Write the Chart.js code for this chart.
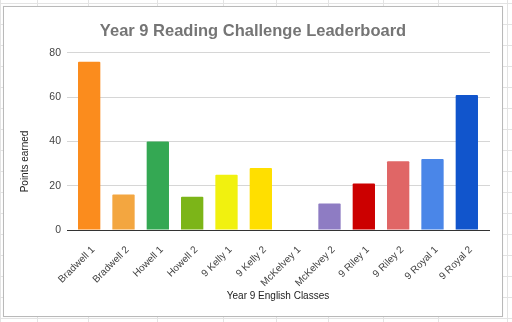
<!doctype html>
<html>
<head>
  <meta charset="utf-8" />
  <title>Year 9 Reading Challenge Leaderboard</title>
  <style>
    html, body { margin: 0; padding: 0; }
    body {
      width: 512px; height: 322px; overflow: hidden; position: relative;
      background-color: #fff;
      background-image:
        linear-gradient(to bottom, #e3e3e3 1px, transparent 1px),
        linear-gradient(to right, #e3e3e3 1px, transparent 1px);
      background-size: 512px 21px, 512px 322px;
      background-position: 0 3px, 0 0;
    }
    /* spreadsheet column separators */
    .col { position: absolute; top: 0; width: 1px; height: 322px; background: #e3e3e3; }
    #box {
      position: absolute; left: 3px; top: 6px; width: 500px; height: 311px;
      box-sizing: border-box; border: 1px solid #b9b9b9; background: #fff;
      box-shadow: 0 0 1px rgba(0,0,0,.08);
    }
    #wrap { position: absolute; left: 4px; top: 7px; width: 498px; height: 309px; }
  </style>
  <script src="https://cdn.jsdelivr.net/npm/chart.js"></script>
</head>
<body>
  <div class="col" style="left:37px"></div>
  <div class="col" style="left:88px"></div>
  <div class="col" style="left:157px"></div>
  <div class="col" style="left:223px"></div>
  <div class="col" style="left:276px"></div>
  <div class="col" style="left:328px"></div>
  <div class="col" style="left:383px"></div>
  <div class="col" style="left:438px"></div>
  <div class="col" style="left:507px"></div>
  <div id="box"></div>
  <div id="wrap"><canvas id="board" width="498" height="309"></canvas></div>
  <script>
    const classes = ['Bradwell 1', 'Bradwell 2', 'Howell 1', 'Howell 2', '9 Kelly 1', '9 Kelly 2',
      'McKelvey 1', 'McKelvey 2', '9 Riley 1', '9 Riley 2', '9 Royal 1', '9 Royal 2'];
    const points = [76, 16, 40, 15, 25, 28, 0, 12, 21, 31, 32, 61];
    const barColours = ['#fb8c1d', '#f3a640', '#34a853', '#7cb518', '#f1f10f', '#ffdf00',
      '#9e9e9e', '#8e7cc3', '#cc0000', '#e06666', '#4a86e8', '#1155cc'];
    const yTicks = [0, 20, 40, 60, 80];

    const TEXT = '#444';
    const GRID = '#d6d6d6';

    // rotated y-axis caption, centred on the whole chart box rather than the plot
    const yCaption = {
      id: 'yCaption',
      afterDraw(chart) {
        const ctx = chart.ctx;
        ctx.save();
        ctx.translate(21, chart.height / 2);
        ctx.rotate(-Math.PI / 2);
        ctx.font = '10px Arial, "Liberation Sans", sans-serif';
        ctx.fillStyle = '#222';
        ctx.textAlign = 'center';
        ctx.textBaseline = 'middle';
        ctx.fillText('Points earned', 0, 0);
        ctx.restore();
      }
    };

    const gridColour = (c) => (c.tick && c.tick.value === 0 ? '#333' : GRID);

    new Chart(document.getElementById('board'), {
      type: 'bar',
      data: {
        labels: classes,
        datasets: [{
          data: points,
          backgroundColor: barColours,
          borderWidth: 0,
          borderRadius: 1,
          categoryPercentage: 1,
          barPercentage: 0.65
        }]
      },
      options: {
        responsive: false,
        animation: false,
        layout: { padding: 0 },
        plugins: {
          legend: { display: false },
          tooltip: { enabled: false },
          title: {
            display: true,
            text: 'Year 9 Reading Challenge Leaderboard',
            color: '#757575',
            font: { family: 'Arial, "Liberation Sans", sans-serif', size: 16.5, weight: 'bold', lineHeight: 1.2 },
            padding: { top: 15, bottom: 11 }
          }
        },
        scales: {
          x: {
            grid: { display: false },
            border: { display: false },
            ticks: {
              color: TEXT,
              font: { family: 'Arial, "Liberation Sans", sans-serif', size: 10 },
              minRotation: 45, maxRotation: 45,
              padding: 6,
              labelOffset: 4,
              autoSkip: false
            },
            title: {
              display: true,
              text: 'Year 9 English Classes',
              color: '#222',
              font: { family: 'Arial, "Liberation Sans", sans-serif', size: 10, lineHeight: 1.2 },
              padding: { top: 0, bottom: 14 }
            },
            afterFit(scale) { scale.height = 86; }
          },
          y: {
            min: 0, max: 80,
            afterBuildTicks(scale) { scale.ticks = yTicks.map(v => ({ value: v })); },
            grid: { color: gridColour, tickColor: gridColour, drawTicks: true, tickLength: 5 },
            border: { display: false },
            ticks: {
              color: TEXT,
              font: { family: 'Arial, "Liberation Sans", sans-serif', size: 10.5 },
              padding: 6
            },
            afterFit(scale) { scale.width = 68; }
          },
          // right-hand stub so the gridlines run a little past the last bar
          y2: {
            position: 'right',
            min: 0, max: 80,
            afterBuildTicks(scale) { scale.ticks = yTicks.map(v => ({ value: v })); },
            grid: { color: gridColour, tickColor: gridColour, drawOnChartArea: false, drawTicks: true, tickLength: 6 },
            border: { display: false },
            ticks: { display: false },
            afterFit(scale) { scale.width = 18; }
          }
        }
      },
      plugins: [yCaption]
    });
  </script>
</body>
</html>
